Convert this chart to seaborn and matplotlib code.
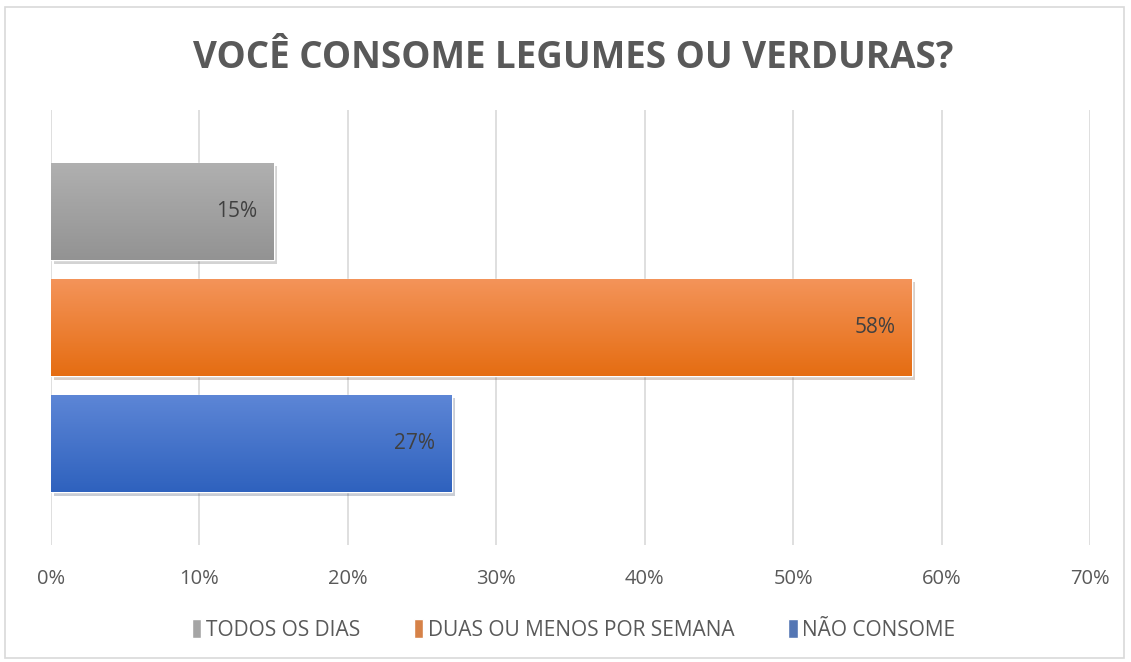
import numpy as np
import pandas as pd
import matplotlib
matplotlib.use('Agg')
import matplotlib.pyplot as plt
import matplotlib.patheffects as pe
from matplotlib.colors import LinearSegmentedColormap
from matplotlib.patches import Rectangle
import seaborn as sns

# dados
categorias = ['TODOS OS DIAS', 'DUAS OU MENOS POR SEMANA', 'NÃO CONSOME']
valores = [0.15, 0.58, 0.27]
pergunta = 'VOCÊ CONSOME LEGUMES OU VERDURAS?'
ticks = [0, 0.1, 0.2, 0.3, 0.4, 0.5, 0.6, 0.7]

# cores (topo, base) do degradê de cada barra
cores_topo = ['#b0b0b0', '#f4945a', '#5d86d6']
cores_base = ['#939393', '#e56d12', '#2f62be']
cores = ['#a5a5a5', '#ed7d31', '#4472c4']

df = pd.DataFrame({'grupo': [''] * 3, 'resposta': categorias, 'valor': valores})

sns.set_style('white')
plt.rcParams['font.family'] = ['Open Sans', 'DejaVu Sans']

fig = plt.figure(figsize=(11.31, 6.62), dpi=100)
ax = fig.add_axes([0.0451, 0.1767, 0.9186, 0.6571])

sns.barplot(data=df, x='valor', y='grupo', hue='resposta', hue_order=categorias,
            palette=cores, orient='h', width=0.8, gap=0.16, ax=ax, legend=True)

ax.set_xlim(0, 0.7)
ylim = ax.get_ylim()

# degradê + sombra em cada barra
for i, p in enumerate(ax.patches[:3]):
    p.set_path_effects([pe.SimplePatchShadow(offset=(2.5, -2.5), alpha=0.25, rho=0.5), pe.Normal()])
    x0, y0 = p.get_x(), p.get_y()
    w, h = p.get_width(), p.get_height()
    cmap = LinearSegmentedColormap.from_list('g%d' % i, [cores_topo[i], cores_base[i]])
    grad = np.linspace(0, 1, 100).reshape(-1, 1)
    im = ax.imshow(grad, cmap=cmap, aspect='auto', extent=[x0, x0 + w, y0 + h, y0],
                   zorder=p.get_zorder() + 0.1)
    im.set_clip_path(p)
    ax.annotate('{:.0%}'.format(w), xy=(x0 + w, y0 + h / 2), xytext=(-12, 0),
                textcoords='offset points', ha='right', va='center',
                fontsize=15, color='#404040', zorder=5)

ax.set_ylim(ylim)
ax.set_xticks(ticks)
ax.set_xticklabels(['{:.0%}'.format(t) for t in ticks])
ax.set_yticks([])
ax.set_xlabel('')
ax.set_ylabel('')
ax.grid(axis='x', color='#d9d9d9', linewidth=1.2)
ax.set_axisbelow(True)
for s in ax.spines.values():
    s.set_visible(False)
ax.tick_params(axis='x', length=0, pad=17, labelsize=14.5, labelcolor='#595959')

handles, labels = ax.get_legend_handles_labels()
ax.legend(handles, labels, loc='center', bbox_to_anchor=(0.503, -0.195), ncol=3,
          frameon=False, fontsize=15, labelcolor='#595959', handlelength=0.45,
          handleheight=1.0, handletextpad=0.2, columnspacing=2.6)

fig.text(0.507, 0.912, pergunta, ha='center', va='center', fontsize=26.5,
         fontweight='bold', color='#595959')

fig.patches.append(Rectangle((0.004, 0.006), 0.99, 0.984, transform=fig.transFigure,
                             fill=False, edgecolor='#d9d9d9', linewidth=1.2))

fig.savefig('out.png', dpi=100)
